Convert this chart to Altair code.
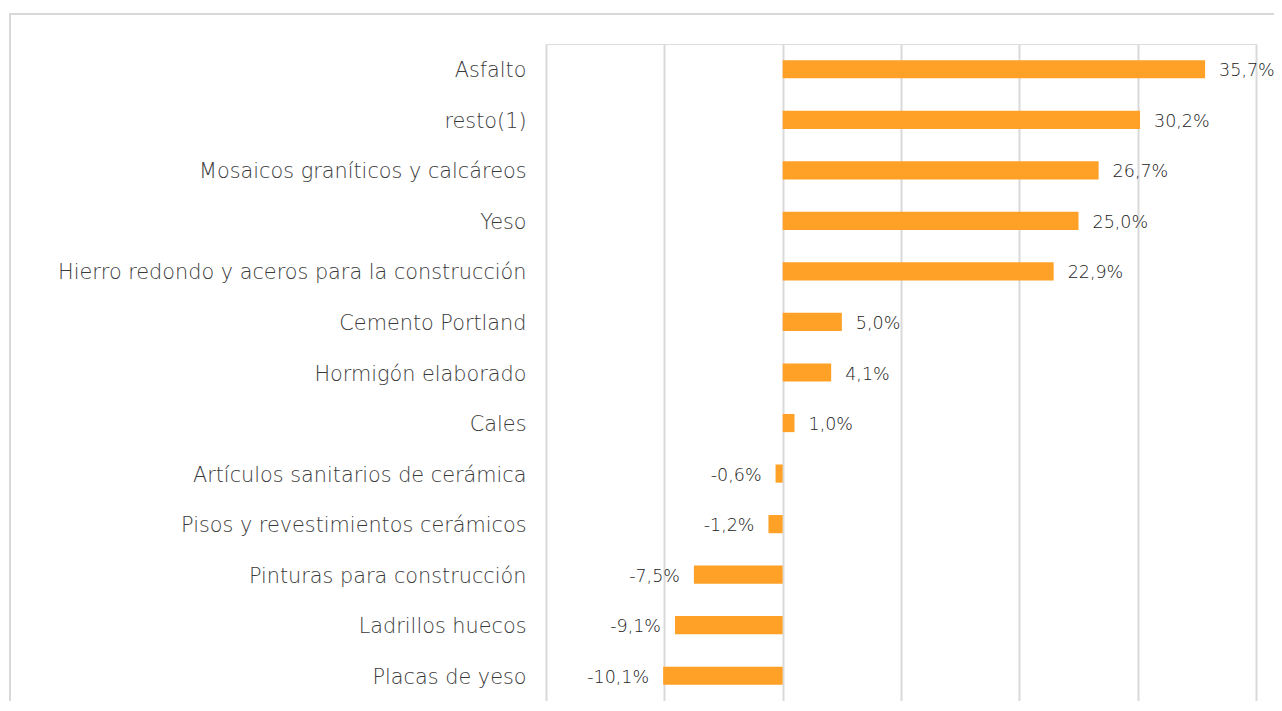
import altair as alt
import pandas as pd

categories = [
    "Asfalto",
    "resto(1)",
    "Mosaicos graníticos y calcáreos",
    "Yeso",
    "Hierro redondo y aceros para la construcción",
    "Cemento Portland",
    "Hormigón elaborado",
    "Cales",
    "Artículos sanitarios de cerámica",
    "Pisos y revestimientos cerámicos",
    "Pinturas para construcción",
    "Ladrillos huecos",
    "Placas de yeso",
]
values = [35.7, 30.2, 26.7, 25.0, 22.9, 5.0, 4.1, 1.0, -0.6, -1.2, -7.5, -9.1, -10.1]
labels = [f"{v:.1f}".replace(".", ",") + "%" for v in values]

df = pd.DataFrame({"cat": categories, "val": values, "label": labels})
df["side"] = ["pos" if v >= 0 else "neg" for v in values]

FONT = "DejaVu Sans"
BAR = "#FFA126"

y_enc = alt.Y(
    "cat:N",
    sort=categories,
    scale=alt.Scale(paddingInner=0.64, paddingOuter=0.32),
    axis=alt.Axis(
        title=None, domain=False, ticks=False, labelPadding=20, labelLimit=600,
        labelFont=FONT, labelFontSize=20.8, labelFontWeight=300, labelOffset=2,
        labelColor="#3a3a3a", grid=False,
    ),
)
x_scale = alt.Scale(domain=[-20, 40], nice=False, zero=False)
x_enc = alt.X(
    "val:Q",
    scale=x_scale,
    axis=alt.Axis(
        title=None, labels=False, ticks=False, domain=False, grid=True,
        values=[-20, -10, 0, 10, 20, 30, 40], gridColor="#d9d9d9", gridWidth=2,
    ),
)

base = alt.Chart(df)

bars = base.mark_bar(color=BAR).encode(x=x_enc, x2=alt.datum(0), y=y_enc)

pos_text = base.transform_filter(alt.datum.side == "pos").mark_text(
    align="left", dx=14, dy=2, font=FONT, fontSize=17.5, fontWeight=300, color="#222222"
).encode(x=alt.X("val:Q", scale=x_scale), y=alt.Y("cat:N", sort=categories), text="label:N")

neg_text = base.transform_filter(alt.datum.side == "neg").mark_text(
    align="right", dx=-14, dy=2, font=FONT, fontSize=17.5, fontWeight=300, color="#222222"
).encode(x=alt.X("val:Q", scale=x_scale), y=alt.Y("cat:N", sort=categories), text="label:N")

frame = alt.Chart(pd.DataFrame({"k": [0]})).mark_rect(
    fill=None, stroke="#d9d9d9", strokeWidth=2
).encode(
    x=alt.value(-536), x2=alt.value(740), y=alt.value(-30), y2=alt.value(700)
)

chart = alt.layer(frame, bars, pos_text, neg_text).properties(
    width=710, height=657,
    autosize=alt.AutoSizeParams(type="none"),
    padding={"left": 538, "top": 36, "right": 18, "bottom": 0},
).configure_view(stroke=None).configure(background="white")

chart.save("out.html", embed_options={"renderer": "svg", "actions": False})
